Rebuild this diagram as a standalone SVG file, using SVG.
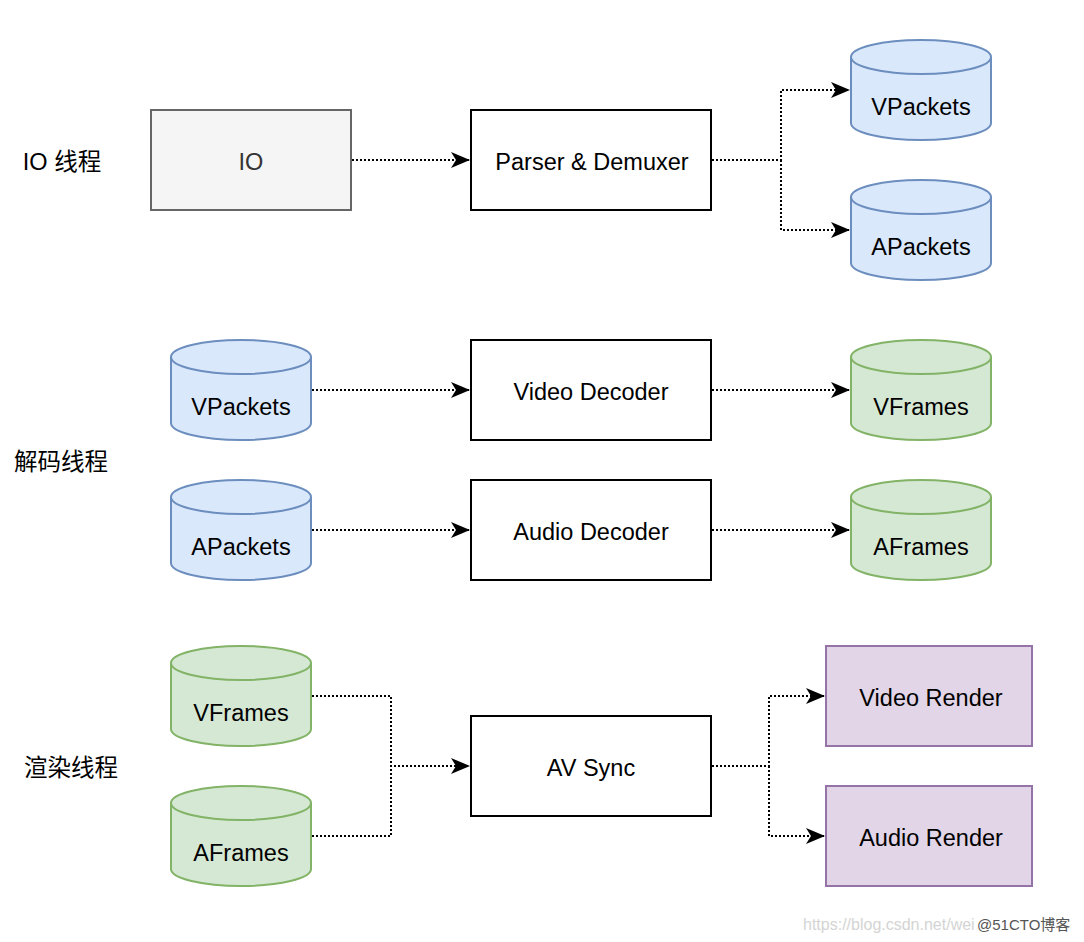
<svg xmlns="http://www.w3.org/2000/svg" xmlns:xlink="http://www.w3.org/1999/xlink" width="1084" height="942" viewBox="0 0 1084 942">
<style>
text{font-family:"Liberation Sans","Noto Sans CJK SC",Arial,sans-serif;font-size:23.5px;fill:#000;text-anchor:middle}
.box{fill:#fff;stroke:#000;stroke-width:2}
.io{fill:#f5f5f5;stroke:#666;stroke-width:2}
.blue{fill:#dae8fc;stroke:#6c8ebf;stroke-width:2}
.green{fill:#d5e8d4;stroke:#82b366;stroke-width:2}
.purple{fill:#e1d5e7;stroke:#9673a6;stroke-width:2}
.edge{fill:none;stroke:#000;stroke-width:2;stroke-dasharray:2 2}
.wm{font-size:16px;text-anchor:start}
</style>
<defs>
<marker id="arr" markerUnits="userSpaceOnUse" viewBox="0 0 19 16" refX="18" refY="8" markerWidth="19" markerHeight="16" orient="auto">
<path d="M0,0 L19,8 L0,16 L5,8 Z" fill="#000"/>
</marker>
<g id="cyl">
<path d="M0,17 A70,17 0 0 1 140,17 L140,83 A70,17 0 0 1 0,83 Z"/>
<path d="M0,17 A70,17 0 0 0 140,17" fill="none"/>
</g>
</defs>
<g id="labels">
<text x="62" y="170">IO 线程</text>
<text x="61" y="470">解码线程</text>
<text x="71" y="776">渲染线程</text>
</g>
<g id="connectors">
<path class="edge" d="M352,160 L469,160" marker-end="url(#arr)"/>
<path class="edge" d="M712,160 L781,160 L781,90 L849,90" marker-end="url(#arr)"/>
<path class="edge" d="M781,160 L781,230 L849,230" marker-end="url(#arr)"/>
<path class="edge" d="M312,390 L469,390" marker-end="url(#arr)"/>
<path class="edge" d="M712,390 L849,390" marker-end="url(#arr)"/>
<path class="edge" d="M312,530 L469,530" marker-end="url(#arr)"/>
<path class="edge" d="M712,530 L849,530" marker-end="url(#arr)"/>
<path class="edge" d="M312,696 L391,696 L391,766 L469,766" marker-end="url(#arr)"/>
<path class="edge" d="M312,836 L391,836 L391,766"/>
<path class="edge" d="M712,766 L769,766 L769,696 L824,696" marker-end="url(#arr)"/>
<path class="edge" d="M769,766 L769,836 L824,836" marker-end="url(#arr)"/>
</g>
<g id="io"><rect class="io" x="151" y="110" width="200" height="100"/><text x="251" y="170" style="fill:#333">IO</text></g>
<g id="parser"><rect class="box" x="471" y="110" width="240" height="100"/><text x="592" y="170">Parser &amp; Demuxer</text></g>
<g id="vpackets1"><use xlink:href="#cyl" class="blue" transform="translate(851,40)"/><text x="921" y="115">VPackets</text></g>
<g id="apackets1"><use xlink:href="#cyl" class="blue" transform="translate(851,180)"/><text x="921" y="255">APackets</text></g>
<g id="vpackets2"><use xlink:href="#cyl" class="blue" transform="translate(171,340)"/><text x="241" y="415">VPackets</text></g>
<g id="apackets2"><use xlink:href="#cyl" class="blue" transform="translate(171,480)"/><text x="241" y="555">APackets</text></g>
<g id="vdec"><rect class="box" x="471" y="340" width="240" height="100"/><text x="591" y="400">Video Decoder</text></g>
<g id="adec"><rect class="box" x="471" y="480" width="240" height="100"/><text x="591" y="540">Audio Decoder</text></g>
<g id="vframes1"><use xlink:href="#cyl" class="green" transform="translate(851,340)"/><text x="921" y="415">VFrames</text></g>
<g id="aframes1"><use xlink:href="#cyl" class="green" transform="translate(851,480)"/><text x="921" y="555">AFrames</text></g>
<g id="vframes2"><use xlink:href="#cyl" class="green" transform="translate(171,646)"/><text x="241" y="721">VFrames</text></g>
<g id="aframes2"><use xlink:href="#cyl" class="green" transform="translate(171,786)"/><text x="241" y="861">AFrames</text></g>
<g id="avsync"><rect class="box" x="471" y="716" width="240" height="100"/><text x="591" y="776">AV Sync</text></g>
<g id="vrender"><rect class="purple" x="826" y="646" width="206" height="100"/><text x="931" y="706">Video Render</text></g>
<g id="arender"><rect class="purple" x="826" y="786" width="206" height="100"/><text x="931" y="846">Audio Render</text></g>
<g id="watermark">
<text class="wm" x="803" y="930" style="fill:#d4d4d4">https://blog.csdn.net/wei</text>
<text class="wm" x="977" y="930" style="fill:#555;font-size:15px">@51CTO博客</text>
</g>
</svg>
